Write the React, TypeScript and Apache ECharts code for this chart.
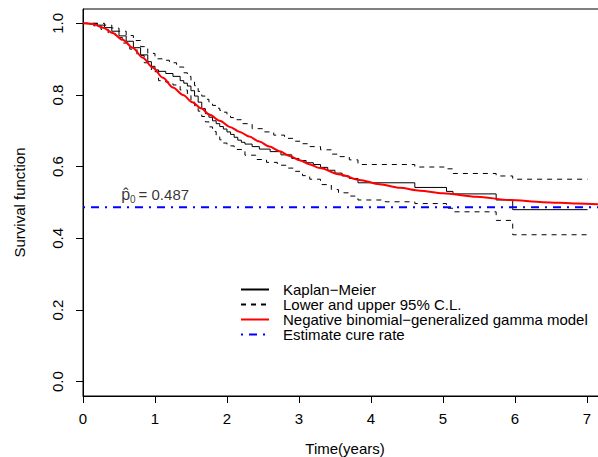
import React, { useEffect, useRef } from "react";
import * as echarts from "echarts";

const kmTime = [0, 0.2, 0.3, 0.4, 0.5, 0.6, 0.7, 0.8, 0.9, 0.95, 1.0, 1.05, 1.15, 1.25, 1.35, 1.4, 1.45, 1.5, 1.55, 1.6, 1.65, 1.7, 1.75, 1.8, 1.85, 1.9, 1.95, 2.0, 2.05, 2.1, 2.15, 2.2, 2.25, 2.35, 2.45, 2.6, 2.75, 2.9, 3.0, 3.1, 3.2, 3.3, 3.4, 3.5, 3.6, 3.7, 3.82, 4.61, 5.05, 5.14, 5.74, 5.97, 7.01];
const kmSurv = [1.0, 0.995, 0.988, 0.978, 0.965, 0.95, 0.932, 0.912, 0.893, 0.88, 0.87, 0.866, 0.86, 0.852, 0.84, 0.833, 0.825, 0.812, 0.797, 0.78, 0.762, 0.748, 0.738, 0.728, 0.72, 0.712, 0.705, 0.697, 0.69, 0.682, 0.674, 0.668, 0.663, 0.656, 0.649, 0.642, 0.633, 0.623, 0.617, 0.611, 0.606, 0.598, 0.59, 0.582, 0.574, 0.567, 0.555, 0.542, 0.531, 0.524, 0.507, 0.48, 0.48];

const ciUpperTime = [0, 0.2, 0.3, 0.4, 0.5, 0.6, 0.7, 0.8, 0.9, 1.0, 1.1, 1.2, 1.3, 1.4, 1.45, 1.5, 1.55, 1.6, 1.65, 1.7, 1.75, 1.8, 1.85, 1.9, 1.95, 2.0, 2.05, 2.1, 2.2, 2.35, 2.5, 2.65, 2.8, 2.95, 3.05, 3.15, 3.3, 3.45, 3.55, 3.7, 3.82, 4.61, 5.05, 5.14, 5.74, 5.97, 7.01];
const ciUpper = [1.0, 1.0, 0.995, 0.987, 0.978, 0.966, 0.952, 0.935, 0.916, 0.901, 0.897, 0.89, 0.878, 0.862, 0.852, 0.84, 0.826, 0.81, 0.797, 0.788, 0.78, 0.771, 0.763, 0.757, 0.752, 0.744, 0.737, 0.731, 0.72, 0.706, 0.697, 0.688, 0.679, 0.671, 0.664, 0.656, 0.647, 0.635, 0.628, 0.619, 0.606, 0.599, 0.594, 0.581, 0.574, 0.565, 0.565];

const ciLowerTime = [0, 0.15, 0.25, 0.35, 0.45, 0.55, 0.65, 0.75, 0.85, 0.95, 1.05, 1.15, 1.25, 1.35, 1.45, 1.5, 1.55, 1.6, 1.65, 1.7, 1.75, 1.8, 1.85, 1.9, 1.95, 2.0, 2.1, 2.25, 2.4, 2.55, 2.7, 2.85, 2.95, 3.05, 3.15, 3.3, 3.45, 3.55, 3.7, 3.82, 4.2, 4.61, 5.05, 5.14, 5.74, 5.97, 7.01];
const ciLower = [1.0, 0.993, 0.983, 0.972, 0.96, 0.945, 0.928, 0.91, 0.89, 0.865, 0.84, 0.836, 0.828, 0.814, 0.8, 0.786, 0.77, 0.755, 0.74, 0.725, 0.711, 0.698, 0.686, 0.675, 0.666, 0.658, 0.648, 0.632, 0.62, 0.612, 0.604, 0.596, 0.587, 0.575, 0.565, 0.55, 0.536, 0.527, 0.518, 0.507, 0.502, 0.497, 0.484, 0.474, 0.45, 0.41, 0.41];

const modelTime = [0, 0.14, 0.28, 0.41, 0.55, 0.69, 0.83, 0.97, 1.11, 1.25, 1.39, 1.52, 1.64, 1.76, 1.9, 2.04, 2.18, 2.31, 2.45, 2.59, 2.73, 2.87, 3.01, 3.14, 3.29, 3.57, 3.84, 4.12, 4.4, 4.68, 5.0, 5.47, 5.93, 6.39, 6.86, 7.28];
const modelSurv = [1.0, 0.998, 0.988, 0.973, 0.954, 0.932, 0.904, 0.876, 0.848, 0.821, 0.8, 0.78, 0.763, 0.745, 0.728, 0.711, 0.697, 0.684, 0.67, 0.656, 0.643, 0.63, 0.618, 0.607, 0.596, 0.578, 0.563, 0.551, 0.541, 0.533, 0.526, 0.516, 0.507, 0.501, 0.497, 0.494];

const cureRate = 0.487;
const xMin = 0;
const xMax = 7.28;
const yMin = -0.04;
const yMax = 1.04;
const xTicks = [0, 1, 2, 3, 4, 5, 6, 7];
const yTicks = [0, 0.2, 0.4, 0.6, 0.8, 1.0];
const annotPos = [0.53, 0.522];

const names = {
  km: "Kaplan\u2212Meier",
  ci: "Lower and upper 95% C.L.",
  model: "Negative binomial\u2212generalized gamma model",
  cure: "Estimate cure rate",
};

const FONT = "'Liberation Sans', Arial, Helvetica, sans-serif";

function zip(a: number[], b: number[]) {
  return a.map((v, i) => [v, b[i]]);
}

export default function App() {
  const ref = useRef<HTMLDivElement>(null);
  useEffect(() => {
    const chart = echarts.init(ref.current!, null, { renderer: "svg" });
    const option: any = {
      animation: false,
      backgroundColor: "#fff",
      textStyle: { fontFamily: FONT, color: "#000" },
      grid: {
        left: 83,
        top: 9,
        width: 524,
        height: 387,
        outerBoundsMode: "none",
        containLabel: false,
        show: true,
        borderColor: "#000",
        borderWidth: 1,
        backgroundColor: "transparent",
      },
      legend: {
        data: [names.km, names.ci, names.model, names.cure],
        orient: "vertical",
        left: 240,
        top: 282,
        padding: 0,
        itemGap: 0,
        itemWidth: 28,
        itemHeight: 15,
        selectedMode: false,
        itemStyle: { opacity: 0 },
        textStyle: {
          fontFamily: FONT,
          fontSize: 15,
          color: "#000",
          lineHeight: 15,
          padding: [0, 0, 0, 9],
        },
      },
      xAxis: {
        type: "value",
        min: xMin,
        max: xMax,
        name: "Time(years)",
        nameLocation: "middle",
        nameGap: 45,
        nameTextStyle: { fontFamily: FONT, fontSize: 15, color: "#000" },
        axisLine: { show: true, onZero: false, lineStyle: { color: "#000", width: 1 } },
        axisTick: { show: true, length: 7, lineStyle: { color: "#000" }, customValues: xTicks },
        axisLabel: {
          show: true,
          customValues: xTicks,
          fontFamily: FONT,
          fontSize: 15,
          color: "#000",
          margin: 15,
          formatter: (v: number) => String(v),
        },
        splitLine: { show: false },
      },
      yAxis: {
        type: "value",
        min: yMin,
        max: yMax,
        name: "Survival function",
        nameLocation: "middle",
        nameGap: 56,
        nameTextStyle: { fontFamily: FONT, fontSize: 15, color: "#000" },
        axisLine: { show: true, onZero: false, lineStyle: { color: "#000", width: 1 } },
        axisTick: { show: true, length: 7, lineStyle: { color: "#000" }, customValues: yTicks },
        axisLabel: {
          show: true,
          customValues: yTicks,
          rotate: 90,
          fontFamily: FONT,
          fontSize: 15,
          color: "#000",
          margin: 18,
          formatter: (v: number) => v.toFixed(1),
        },
        splitLine: { show: false },
      },
      series: [
        {
          name: names.km,
          type: "line",
          step: "end",
          symbol: "none",
          data: zip(kmTime, kmSurv),
          lineStyle: { color: "#000", width: 1 },
          itemStyle: { color: "#000" },
          z: 3,
        },
        {
          name: names.ci,
          type: "line",
          step: "end",
          symbol: "none",
          data: zip(ciUpperTime, ciUpper),
          lineStyle: { color: "#000", width: 1, type: [5, 5] },
          itemStyle: { color: "#000" },
          z: 2,
        },
        {
          name: names.ci,
          type: "line",
          step: "end",
          symbol: "none",
          data: zip(ciLowerTime, ciLower),
          lineStyle: { color: "#000", width: 1, type: [5, 5] },
          itemStyle: { color: "#000" },
          z: 2,
        },
        {
          name: names.model,
          type: "line",
          symbol: "none",
          smooth: 0.3,
          smoothMonotone: "x",
          data: zip(modelTime, modelSurv),
          lineStyle: { color: "#ff0000", width: 2 },
          itemStyle: { color: "#ff0000" },
          z: 4,
        },
        {
          name: names.cure,
          type: "line",
          symbol: "none",
          data: [
            [xMin, cureRate],
            [xMax, cureRate],
          ],
          lineStyle: { color: "#0000ff", width: 2, type: [2, 6, 8, 6] },
          itemStyle: { color: "#0000ff" },
          z: 4,
        },
        {
          name: "annotation",
          type: "scatter",
          symbolSize: 0,
          data: [annotPos],
          silent: true,
          label: {
            show: true,
            position: "right",
            distance: 0,
            formatter: "{p|p\u0302}{s|0}{t|\u2009= " + cureRate.toFixed(3) + "}",
            rich: {
              p: { fontFamily: FONT, fontSize: 16, lineHeight: 20, color: "#000" },
              s: { fontFamily: FONT, fontSize: 10, lineHeight: 12, verticalAlign: "bottom", color: "#000" },
              t: { fontFamily: FONT, fontSize: 15, lineHeight: 20, color: "#000" },
            },
          },
        },
      ],
    };
    chart.setOption(option);
    return () => chart.dispose();
  }, []);
  return (
    <div
      ref={ref}
      style={{ position: "absolute", left: 0, top: 0, width: 598, height: 457 }}
    />
  );
}
